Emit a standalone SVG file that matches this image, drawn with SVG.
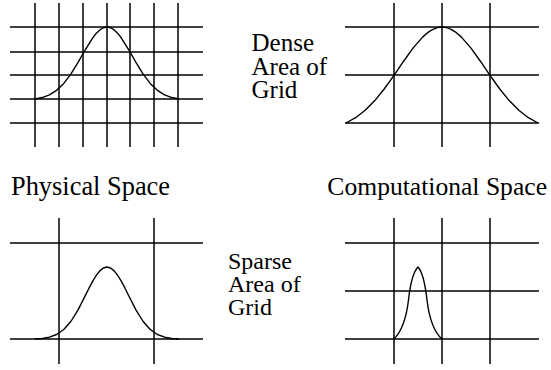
<svg xmlns="http://www.w3.org/2000/svg" width="551" height="370" viewBox="0 0 551 370">
<style>
.grid{stroke:#000;stroke-width:1.5;fill:none}
.curve{stroke:#000;stroke-width:1.4;fill:none;stroke-linejoin:round}
</style>
<rect width="551" height="370" fill="#fff"/>
<g id="physical-dense">
<g class="grid">
<line x1="35" y1="3" x2="35" y2="147"/><line x1="59" y1="3" x2="59" y2="147"/><line x1="83" y1="3" x2="83" y2="147"/><line x1="107" y1="3" x2="107" y2="147"/><line x1="130" y1="3" x2="130" y2="147"/><line x1="154" y1="3" x2="154" y2="147"/><line x1="178" y1="3" x2="178" y2="147"/>
<line x1="10" y1="27" x2="203" y2="27"/><line x1="10" y1="52" x2="203" y2="52"/><line x1="10" y1="75" x2="203" y2="75"/><line x1="10" y1="99" x2="203" y2="99"/><line x1="10" y1="123" x2="203" y2="123"/>
</g>
<polyline class="curve" points="35,99 42.2,97.55 49.4,94.86 56.6,90.33 63.8,83.38 71,73.84 78.2,62.11 85.4,49.51 92.6,38.02 96.2,33.4 99.8,29.93 103.4,27.75 107,27 110.6,27.75 114.2,29.93 117.8,33.4 121.4,38.02 128.6,49.51 135.8,62.11 143,73.84 150.2,83.38 157.4,90.33 164.6,94.86 171.8,97.55 179,99"/>
</g>
<g id="computational-dense">
<g class="grid">
<line x1="394" y1="3" x2="394" y2="147"/><line x1="442" y1="3" x2="442" y2="147"/><line x1="490" y1="3" x2="490" y2="147"/>
<line x1="345" y1="27" x2="539" y2="27"/><line x1="345" y1="75" x2="539" y2="75"/><line x1="345" y1="123" x2="539" y2="123"/>
</g>
<polyline class="curve" points="346,123 355.6,117.69 365.2,110.29 374.8,100.61 384.4,88.77 394,75.31 403.6,61.22 413.2,47.9 422.8,36.86 427.6,32.66 432.4,29.56 437.2,27.64 442,27 446.8,27.64 451.6,29.56 456.4,32.66 461.2,36.86 470.8,47.9 480.4,61.22 490,75.31 499.6,88.77 509.2,100.61 518.8,110.29 528.4,117.69 538,123"/>
</g>
<g id="physical-sparse">
<g class="grid">
<line x1="59" y1="218" x2="59" y2="364"/><line x1="154" y1="218" x2="154" y2="364"/>
<line x1="10" y1="243" x2="203" y2="243"/><line x1="10" y1="339" x2="203" y2="339"/>
</g>
<polyline class="curve" points="35,339 42.2,338.47 49.4,337.21 56.6,334.53 63.8,329.5 71,321.25 78.2,309.57 85.4,295.44 89,288.2 92.6,281.4 96.2,275.5 99.8,270.9 103.4,268.02 107,267 110.6,268.02 114.2,270.9 117.8,275.5 121.4,281.4 125,288.2 128.6,295.44 135.8,309.57 143,321.25 150.2,329.5 157.4,334.53 164.6,337.21 171.8,338.47 179,339"/>
</g>
<g id="computational-sparse">
<g class="grid">
<line x1="394" y1="218" x2="394" y2="364"/><line x1="442" y1="218" x2="442" y2="364"/><line x1="490" y1="218" x2="490" y2="364"/>
<line x1="345" y1="243" x2="539" y2="243"/><line x1="345" y1="291" x2="539" y2="291"/><line x1="345" y1="339" x2="539" y2="339"/>
</g>
<path class="curve" d="M394,339 C401,332 406,321 408.5,300 C410.5,282 413,272 418,267 C422.5,272 425,282 427,300 C429.5,321 434,332 442,339"/>
</g>
<g id="labels" font-family="'Liberation Serif', 'Times New Roman', 'DejaVu Serif', serif" fill="#000">
<text font-size="26.4" x="11" y="195">Physical Space</text>
<text font-size="25.6" x="547" y="195" text-anchor="end">Computational Space</text>
<text font-size="25" x="251.5" y="51">Dense</text>
<text font-size="25" x="251.5" y="75">Area of</text>
<text font-size="25" x="251.5" y="98">Grid</text>
<text font-size="24" x="228" y="268.5">Sparse</text>
<text font-size="24" x="228" y="291.7">Area of</text>
<text font-size="24" x="228" y="315">Grid</text>
</g>
</svg>
